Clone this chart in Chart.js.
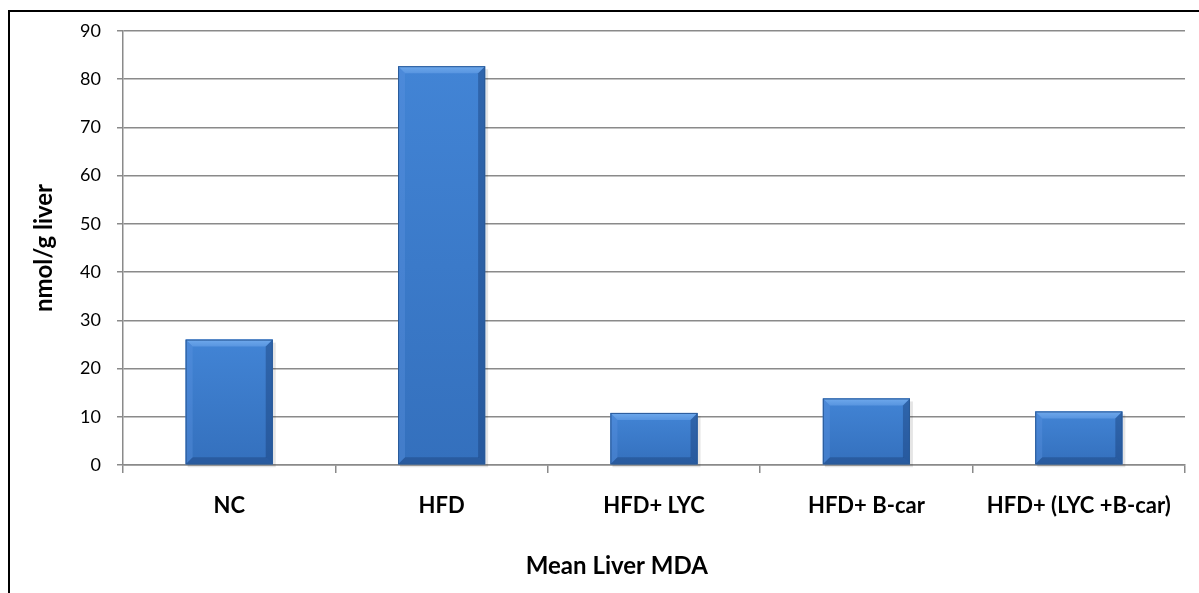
<!DOCTYPE html>
<html>
<head>
<meta charset="utf-8">
<script src="https://cdn.jsdelivr.net/npm/chart.js@4.4.1/dist/chart.umd.min.js"></script>
<style>
  html, body { margin:0; padding:0; background:#fff; overflow:hidden; }
  #wrap { position:relative; width:1199px; height:593px; }
  #frame { position:absolute; left:8px; top:10px; width:1300px; height:700px; border:2px solid #000; box-sizing:border-box; }
  canvas { position:absolute; left:0; top:0; }
</style>
</head>
<body>
<div id="wrap">
  <div id="frame"></div>
  <canvas id="c" width="1199" height="593"></canvas>
</div>
<script>
const categories = ["NC", "HFD", "HFD+ LYC", "HFD+ B-car", "HFD+ (LYC +B-car)"];
const mdaValues = [26.0, 82.7, 10.8, 13.8, 11.1];
const yTicks = [0, 10, 20, 30, 40, 50, 60, 70, 80, 90];
const yTitle = "nmol/g liver";
const xTitle = "Mean Liver MDA";

const FONT = "Lato, 'Open Sans', 'Liberation Sans', sans-serif";

const bevelPlugin = {
  id: 'bevel',
  beforeDatasetsDraw(chart) {
    const ctx = chart.ctx;
    const meta = chart.getDatasetMeta(0);
    ctx.save();
    meta.data.forEach(bar => {
      const p = bar.getProps(['x','y','base','width'], true);
      if (![p.x,p.y,p.base,p.width].every(Number.isFinite)) return;
      ctx.fillStyle = 'rgba(0,0,0,0.10)';
      ctx.fillRect(p.x - p.width/2 + 2, p.y + 3, p.width + 1, p.base - p.y);
    });
    ctx.restore();
  },
  afterDatasetsDraw(chart) {
    const ctx = chart.ctx;
    const meta = chart.getDatasetMeta(0);
    meta.data.forEach(bar => {
      const p = bar.getProps(['x','y','base','width'], true);
      if (![p.x,p.y,p.base,p.width].every(Number.isFinite)) return;
      const l = p.x - p.width/2, r = p.x + p.width/2, t = p.y, b = p.base;
      const d = 7;
      ctx.save();
      let bg = ctx.createLinearGradient(0, t, 0, b);
      bg.addColorStop(0, '#4284d5');
      bg.addColorStop(1, '#3470bd');
      ctx.fillStyle = bg;
      ctx.fillRect(l, t, r - l, b - t);
      // top bevel
      ctx.beginPath();
      ctx.moveTo(l, t); ctx.lineTo(r, t); ctx.lineTo(r-d, t+d); ctx.lineTo(l+d, t+d); ctx.closePath();
      let g = ctx.createLinearGradient(0, t, 0, t+d);
      g.addColorStop(0, '#6fa9ec'); g.addColorStop(1, '#5895e0');
      ctx.fillStyle = g; ctx.fill();
      // left bevel
      ctx.beginPath();
      ctx.moveTo(l, t); ctx.lineTo(l+d, t+d); ctx.lineTo(l+d, b-d); ctx.lineTo(l, b); ctx.closePath();
      ctx.fillStyle = 'rgba(95,150,225,0.35)'; ctx.fill();
      // right bevel
      ctx.beginPath();
      ctx.moveTo(r, t); ctx.lineTo(r-d, t+d); ctx.lineTo(r-d, b-d); ctx.lineTo(r, b); ctx.closePath();
      ctx.fillStyle = 'rgba(20,55,110,0.4)'; ctx.fill();
      // bottom bevel
      ctx.beginPath();
      ctx.moveTo(l, b); ctx.lineTo(l+d, b-d); ctx.lineTo(r-d, b-d); ctx.lineTo(r, b); ctx.closePath();
      ctx.fillStyle = 'rgba(25,60,115,0.4)'; ctx.fill();
      ctx.strokeStyle = '#2a5a98'; ctx.lineWidth = 1;
      ctx.strokeRect(l+0.5, t+0.5, p.width-1, b-t-1);
      ctx.restore();
    });
  }
};

const xTitlePlugin = {
  id: 'xTitleOffset',
  afterDraw(chart) {
    const ca = chart.chartArea;
    const ctx = chart.ctx;
    ctx.save();
    ctx.font = "bold 24px " + FONT;
    ctx.fillStyle = '#000';
    ctx.textAlign = 'center';
    ctx.textBaseline = 'middle';
    const cx = (ca.left + ca.right) / 2 - (ca.right - ca.left) * 0.035;
    ctx.fillText(xTitle, cx, chart.height - 27);
    ctx.restore();
  }
};

new Chart(document.getElementById('c'), {
  type: 'bar',
  data: {
    labels: categories,
    datasets: [{
      data: mdaValues,
      backgroundColor: '#3a78c9',
      borderWidth: 0,
      categoryPercentage: 1.0,
      barPercentage: 0.41
    }]
  },
  options: {
    responsive: false,
    animation: false,
    layout: { padding: { top: 31, right: 14, left: 0, bottom: 0 } },
    plugins: { legend: { display: false }, tooltip: { enabled: false } },
    scales: {
      x: {
        offset: true,
        afterFit: (s) => { s.height = 128; },
        grid: { display: true, drawOnChartArea: false, offset: true, tickLength: 8, color: '#8a8a8a', lineWidth: 1.5 },
        border: { display: true, color: '#8a8a8a', width: 1.5 },
        ticks: { color: '#000', padding: 20, font: { family: FONT, size: 22, weight: 'bold' } },
        title: { display: false, text: xTitle }
      },
      y: {
        min: 0, max: 90,
        afterFit: (s) => { s.width = 123; },
        afterBuildTicks: (s) => { s.ticks = yTicks.map(v => ({ value: v })); },
        grid: { color: '#8a8a8a', lineWidth: 1.5, tickLength: 6 },
        border: { display: true, color: '#8a8a8a', width: 1.5 },
        ticks: { color: '#000', padding: 16, font: { family: FONT, size: 18 } },
        title: { display: true, text: yTitle, color: '#000', padding: { top: 30, bottom: 0 }, font: { family: FONT, size: 24, weight: 'bold' } }
      }
    }
  },
  plugins: [bevelPlugin, xTitlePlugin]
});
</script>
</body>
</html>
